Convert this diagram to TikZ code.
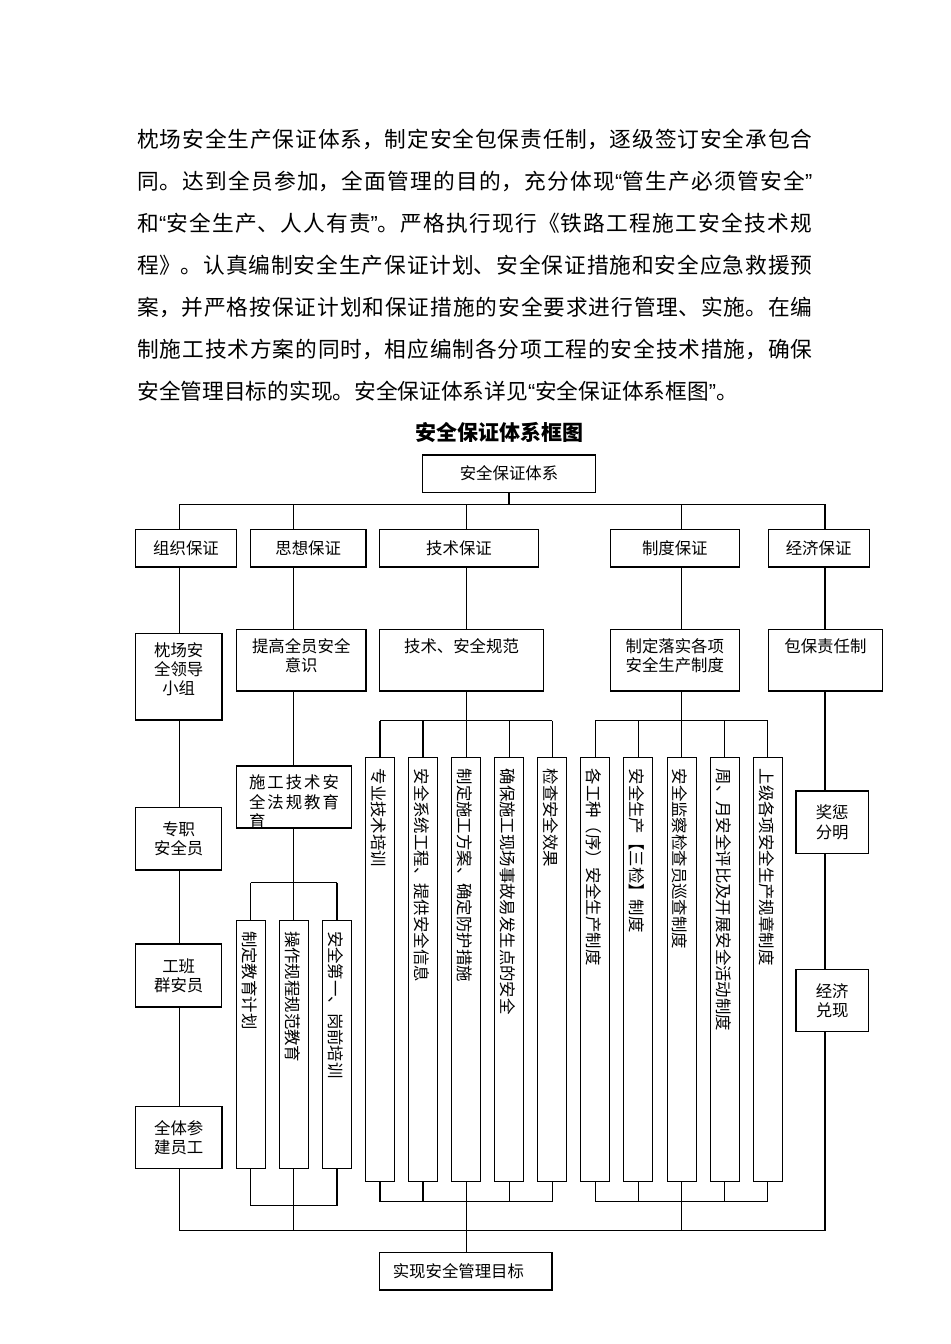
\documentclass[tikz,border=0pt]{standalone}
\usepackage{fontspec}
\setmainfont{Noto Sans CJK SC}
\newfontfamily\quotefont{Liberation Sans}
\usetikzlibrary{positioning}
\XeTeXlinebreaklocale "zh"
\XeTeXlinebreakskip=0pt plus 1pt
\setlength{\parindent}{0pt}
\newcommand{\chartfont}{\fontsize{8.2pt}{9.6pt}\selectfont}
\newcommand{\parafont}{\fontsize{10.85pt}{21pt}\selectfont}

\tikzset{
  wire/.style={line width=0.6pt},
  box/.style 2 args={draw, line width=0.6pt, inner sep=0pt, minimum width=#1, minimum height=#2, align=center, font=\chartfont},
  boxtext/.style={inner sep=0pt, align=center, font=\chartfont},
  vbar/.style={draw, line width=0.5pt, rotate=-90, inner xsep=5.5pt, inner ysep=0pt, minimum height=14.5pt, text width=#1, text height=0.88em, text depth=0.12em, align=left, font=\chartfont},
  paraline/.style={anchor=west, inner sep=0pt, text width=337.5pt, align=justify, font=\parafont}
}

\begin{document}
\begin{tikzpicture}[x=0.5pt, y=-0.5pt]
\useasboundingbox (0,0) rectangle (950,1344);

% text above the chart
\foreach \txt [count=\i] in {枕场安全生产保证体系，制定安全包保责任制，逐级签订安全承包合,同。达到全员参加，全面管理的目的，充分体现{\quotefont “}管生产必须管安全{\quotefont ”},和{\quotefont “}安全生产、人人有责{\quotefont ”}。严格执行现行《铁路工程施工安全技术规,程》。认真编制安全生产保证计划、安全保证措施和安全应急救援预,案，并严格按保证计划和保证措施的安全要求进行管理、实施。在编,制施工技术方案的同时，相应编制各分项工程的安全技术措施，确保}
  \node[paraline] (para\i) at (137,{139+42*(\i-1)}) {\parfillskip=0pt \txt\endgraf};
\node[paraline] (para7) at (137,391) {安全管理目标的实现。安全保证体系详见{\quotefont “}安全保证体系框图{\quotefont ”}。};
\node[font=\bfseries\fontsize{10.5pt}{12pt}\selectfont] (title) at (499,432) {安全保证体系框图};

\coordinate (col1) at (179.5,0);
\coordinate (col2) at (293.8,0);
\coordinate (col3) at (466.2,0);
\coordinate (col4) at (681.5,0);
\coordinate (col5) at (825,0);
\coordinate (topbus) at (0,504.3);
\coordinate (techtop) at (0,720.7);
\coordinate (techbottom) at (0,1201.7);
\coordinate (edutop) at (0,882.7);
\coordinate (edubottom) at (0,1205.7);
\coordinate (bottombus) at (0,1230.5);

\node[box={86.4pt}{18.65pt}] (system) at (509,473.6) {安全保证体系};

\node[box={50.55pt}{18.85pt}] (zuzhi) at (186,548.2) {组织保证};
\node[box={57.75pt}{18.85pt}] (sixiang) at (308.2,548.2) {思想保证};
\node[box={79.15pt}{18.85pt}] (jishu) at (459,548.2) {技术保证};
\node[box={64.45pt}{18.85pt}] (zhidu) at (674.8,548.2) {制度保证};
\node[box={50.5pt}{18.85pt}] (jingji) at (818.6,548.2) {经济保证};

\node[box={43.3pt}{43.35pt}] (lingdao) at (178.7,676.7) {};
\node[boxtext, below=4.6pt of lingdao.north] (lingdao text) {枕场安\\全领导\\小组};
\node[box={64.7pt}{30.85pt}] (tigao) at (301.2,660.2) {};
\node[boxtext, below=4.6pt of tigao.north] (tigao text) {提高全员安全\\意识};
\node[box={81.65pt}{30.85pt}] (guifan) at (461.5,660.2) {};
\node[boxtext, below=4.6pt of guifan.north] (guifan text) {技术、安全规范};
\node[box={64.45pt}{30.85pt}] (luoshi) at (674.8,660.2) {};
\node[boxtext, below=4.6pt of luoshi.north] (luoshi text) {制定落实各项\\安全生产制度};
\node[box={57.25pt}{30.85pt}] (baobao) at (825.4,660.2) {};
\node[boxtext, below=4.6pt of baobao.north] (baobao text) {包保责任制};

\node[box={43pt}{31.15pt}] (zhuanzhi) at (178.7,838.9) {专职\\安全员};
\node[box={43pt}{31.5pt}] (gongban) at (178.7,975.5) {工班\\群安员};
\node[box={43.3pt}{30.8pt}] (quanti) at (178.7,1137.5) {全体参\\建员工};

\node[box={57.5pt}{31pt}] (shigong) at (294,797) {};
\node[boxtext, text width=45pt, align=left, below=4.6pt of shigong.north] (shigong text) {施\hfill{}工\hfill{}技\hfill{}术\hfill{}安\\全\hfill{}法\hfill{}规\hfill{}教\hfill{}育\\育};

\node[box={36.15pt}{31.15pt}] (jiangcheng) at (832.2,822.2) {奖惩\\分明};
\node[box={36.15pt}{31.2pt}] (duixian) at (832.2,1000.5) {经济\\兑现};

\node[box={86.1pt}{18.85pt}, text width=73.1pt, inner xsep=6.5pt, align=left] (mubiao) at (465.9,1271.2) {实现安全管理目标};

% vertical bars
\foreach \txt [count=\i] in {制定教育计划,操作规程规范教育,安全第一、岗前培训}
  \node[vbar=113pt] (edu\i) at ({250.6+43.2*(\i-1)},1044) {\txt};
\foreach \txt [count=\i] in {专业技术培训,安全系统工程、提供安全信息,制定施工方案、确定防护措施,确保施工现场事故易发生点的安全,检查安全效果}
  \node[vbar=200.65pt] (tech\i) at ({380+43.08*(\i-1)},969.35) {\txt};
\foreach \txt [count=\i] in {各工种（序）安全生产制度,安全生产【三检】制度,安全监察检查员巡查制度,周、月安全评比及开展安全活动制度,上级各项安全生产规章制度}
  \node[vbar=200.65pt] (rule\i) at ({595.3+43.1*(\i-1)},969.35) {\txt};

% top bus
\draw[wire] (system.south) -- (system |- topbus);
\draw[wire] (col1 |- topbus) -- (col5 |- topbus);
\foreach \c/\nd in {col1/zuzhi,col2/sixiang,col3/jishu,col4/zhidu,col5/jingji}
  \draw[wire] (\c |- topbus) -- (\c |- \nd.north);

% column 1
\foreach \a/\b in {zuzhi/lingdao,lingdao/zhuanzhi,zhuanzhi/gongban,gongban/quanti}
  \draw[wire] (col1 |- \a.south) -- (col1 |- \b.north);
\draw[wire] (col1 |- quanti.south) -- (col1 |- bottombus);

% column 2
\draw[wire] (col2 |- sixiang.south) -- (col2 |- tigao.north);
\draw[wire] (col2 |- tigao.south) -- (col2 |- shigong.north);
\draw[wire] (col2 |- shigong.south) -- (col2 |- edutop);
\draw[wire] (edu1 |- edutop) -- (edu3 |- edutop);
\draw[wire] (edu1 |- edubottom) -- (edu3 |- edubottom);
\foreach \i in {1,2,3} {
  \draw[wire] (edu\i |- edutop) -- (edu\i.west);
  \draw[wire] (edu\i.east) -- (edu\i |- edubottom);
}
\draw[wire] (edu2 |- edubottom) -- (edu2 |- bottombus);

% column 3
\draw[wire] (col3 |- jishu.south) -- (col3 |- guifan.north);
\draw[wire] (col3 |- guifan.south) -- (col3 |- techtop);
\draw[wire] (tech1 |- techtop) -- (tech5 |- techtop);
\draw[wire] (tech1 |- techbottom) -- (tech5 |- techbottom);
\foreach \i in {1,...,5} {
  \draw[wire] (tech\i |- techtop) -- (tech\i.west);
  \draw[wire] (tech\i.east) -- (tech\i |- techbottom);
}
\draw[wire] (tech3 |- techbottom) -- (tech3 |- mubiao.north);

% column 4
\draw[wire] (col4 |- zhidu.south) -- (col4 |- luoshi.north);
\draw[wire] (col4 |- luoshi.south) -- (col4 |- techtop);
\draw[wire] (rule1 |- techtop) -- (rule5 |- techtop);
\draw[wire] (rule1 |- techbottom) -- (rule5 |- techbottom);
\foreach \i in {1,...,5} {
  \draw[wire] (rule\i |- techtop) -- (rule\i.west);
  \draw[wire] (rule\i.east) -- (rule\i |- techbottom);
}
\draw[wire] (rule3 |- techbottom) -- (rule3 |- bottombus);

% column 5
\foreach \a/\b in {jingji/baobao,baobao/jiangcheng,jiangcheng/duixian}
  \draw[wire] (col5 |- \a.south) -- (col5 |- \b.north);
\draw[wire] (col5 |- duixian.south) -- (col5 |- bottombus);

\draw[wire] (col1 |- bottombus) -- (col5 |- bottombus);
\end{tikzpicture}
\end{document}
